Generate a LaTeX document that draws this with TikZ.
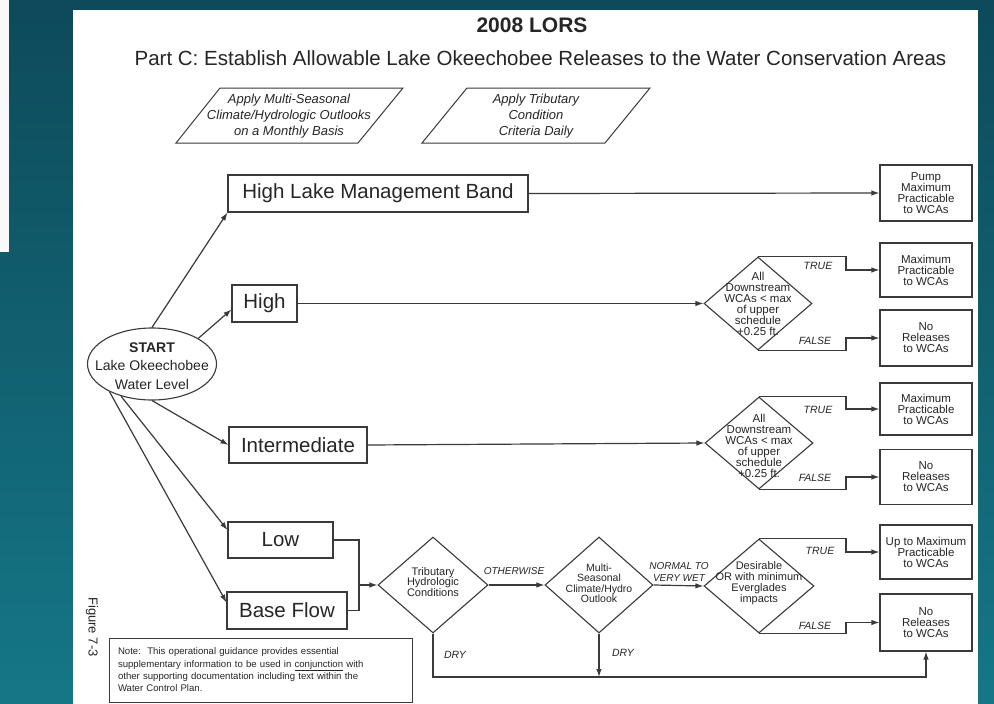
\documentclass[tikz,border=0pt]{standalone}
\usepackage{fontspec}
\setmainfont{Liberation Sans}
\usetikzlibrary{shapes.geometric,arrows.meta,calc}
\definecolor{tealA}{HTML}{0D4A5B}
\definecolor{tealB}{HTML}{157786}
\definecolor{ln}{HTML}{3A3A3A}
\definecolor{tx}{HTML}{262626}
\begin{document}
\begin{tikzpicture}[x=1pt,y=-1pt,
  every node/.style={text=tx},
  box/.style={draw=ln, line width=1.1pt, fill=white, inner sep=0pt, align=center},
  bigbox/.style={box, font=\fontsize{20.5}{22}\selectfont},
  outbox/.style={box, minimum width=92pt, font=\fontsize{11.5}{11}\selectfont},
  dia/.style={draw=ln, line width=1.1pt, diamond, inner sep=0pt, minimum width=108pt, minimum height=94pt},
  diatext/.style={align=center, inner sep=0pt, font=\fontsize{11.5}{11}\selectfont},
  conn/.style={draw=ln, line width=1.2pt},
  arr/.style={conn, -{Latex[length=8pt,width=5.5pt]}},
  lbl/.style={inner sep=0pt, align=center, font=\fontsize{10.5}{13}\selectfont\itshape}]
\useasboundingbox (0,0) rectangle (994,704);
% background
\shade[top color=tealA, bottom color=tealB] (0,0) rectangle (994,704);
\fill[white!95!gray] (0,0) rectangle (9,252);
\fill[white] (73,10) rectangle (978,704);
% titles
\node[font=\fontsize{21}{21}\selectfont\bfseries] (title) at (532,25) {2008 LORS};
\node[font=\fontsize{20.5}{21}\selectfont] (sub) at (540.5,58) {Part C: Establish Allowable Lake Okeechobee Releases to the Water Conservation Areas};
% parallelograms
\draw[ln, line width=1pt] (220,88) -- (403,88) -- (358,143) -- (176,143) -- cycle;
\node[align=center, font=\fontsize{13}{16}\selectfont\itshape] (pa1) at (289,116) {Apply Multi-Seasonal\\Climate/Hydrologic Outlooks\\on a Monthly Basis};
\draw[ln, line width=1pt] (467,88) -- (650,88) -- (605,143) -- (422,143) -- cycle;
\node[align=center, font=\fontsize{13}{16}\selectfont\itshape] (pa2) at (536,116) {Apply Tributary\\Condition\\Criteria Daily};
% start
\node[draw=ln, line width=1.1pt, ellipse, minimum width=129pt, minimum height=72pt, inner sep=0pt] (start) at (152,364) {};
\node[align=center, inner sep=0pt, font=\fontsize{14}{18.5}\selectfont] (startt) at (152,366) {\textbf{START}\\Lake Okeechobee\\Water Level};
% level boxes
\node[bigbox, minimum width=300pt, minimum height=37pt] (hlmb) at (378,193.5) {High Lake Management Band};
\node[bigbox, minimum width=65pt, minimum height=37pt] (high) at (264.5,303.5) {High};
\node[bigbox, minimum width=138pt, minimum height=36pt] (inter) at (298,445) {Intermediate};
\node[bigbox, minimum width=105pt, minimum height=36pt] (low) at (280.5,540) {Low};
\node[bigbox, minimum width=120pt, minimum height=37pt] (bf) at (287,610.5) {Base Flow};
% outcome boxes
\node[outbox, minimum height=56pt] (p1) at (926,193) {Pump\\Maximum\\Practicable\\to WCAs};
\node[outbox, minimum height=54pt] (ht) at (926,270) {Maximum\\Practicable\\to WCAs};
\node[outbox, minimum height=56pt] (hf) at (926,338) {No\\Releases\\to WCAs};
\node[outbox, minimum height=52pt] (it) at (926,409) {Maximum\\Practicable\\to WCAs};
\node[outbox, minimum height=55pt] (if) at (926,477) {No\\Releases\\to WCAs};
\node[outbox, minimum height=54pt] (lt) at (926,552) {Up to Maximum\\Practicable\\to WCAs};
\node[outbox, minimum height=57pt] (lf) at (926,622.5) {No\\Releases\\to WCAs};
% diamonds
\node[dia, minimum height=93pt] (d1) at (758,303.5) {};
\node[diatext] (d1t) at (758,304) {All\\Downstream\\WCAs < max\\of upper\\schedule\\+0.25 ft.};
\node[dia, minimum height=92pt] (d2) at (759,443) {};
\node[diatext] (d2t) at (759,446) {All\\Downstream\\WCAs < max\\of upper\\schedule\\+0.25 ft.};
\node[dia, minimum width=110pt, minimum height=96pt] (trib) at (433,585) {};
\node[diatext, font=\fontsize{11}{10.5}\selectfont] (tribt) at (433,582) {Tributary\\Hydrologic\\Conditions};
\node[dia, minimum height=96pt] (multi) at (599,585) {};
\node[diatext, font=\fontsize{10.5}{10.5}\selectfont] (multit) at (599,583) {Multi-\\Seasonal\\Climate/Hydro\\Outlook};
\node[dia, minimum width=110pt] (des) at (759,586) {};
\node[diatext, font=\fontsize{11}{10.8}\selectfont] (dest) at (759,583) {Desirable\\OR with minimum\\Everglades\\impacts};
% note and figure label
\node[draw=ln, line width=1pt, fill=white, text width=285pt, minimum height=64pt, inner xsep=9pt, inner ysep=0pt, align=left, font=\fontsize{9.6}{12.3}\selectfont] (note) at (260.5,670) {Note:\ \ This operational guidance provides essential\\supplementary information to be used in \underline{conjunction} with\\other supporting documentation including text within the\\Water Control Plan.};
\node[rotate=-90, font=\fontsize{13}{13}\selectfont] (fig) at (92,627) {Figure 7-3};
% helper coordinates
\coordinate (jx) at (846,0);
\coordinate (jb) at (359,585);
\coordinate (dryy) at (0,677);
% connectors from start
\draw[arr] (start.north) -- (hlmb.south west);
\draw[arr] (start.29) -- ($(high.west)+(0,6)$);
\draw[arr] (start.south) -- (inter.west);
\draw[arr] (start.226) -- ($(low.west)+(0,-10)$);
\draw[arr] (start.213) -- ($(bf.north west)+(0,11)$);
% main lines
\draw[arr] (hlmb.east) -- (p1.west);
\draw[arr] (high.east) -- (d1.west);
\draw[arr] (inter.east) -- (d2.west);
\draw[conn] (low.east) -| (jb) |- (bf.east);
\draw[arr] (jb) -- (trib.west);
\draw[arr] (trib.east) -- (multi.west);
\draw[arr] (multi.east) -- (des.west);
% branches
\draw[arr] (d1.north) -- (d1.north -| jx) |- (ht.west);
\draw[arr] (d1.south) -- (d1.south -| jx) |- (hf.west);
\draw[arr] (d2.north) -- (d2.north -| jx) |- (it.west);
\draw[arr] (d2.south) -- (d2.south -| jx) |- (if.west);
\draw[arr] (des.north) -- (des.north -| jx) |- (lt.west);
\draw[arr] (des.south) -- (des.south -| jx) |- (lf.west);
\draw[arr] (trib.south) |- (lf.south |- dryy) -- (lf.south);
\draw[arr] (multi.south) -- (multi.south |- dryy);
% labels
\node[lbl] (t1) at (818,266) {TRUE};
\node[lbl] (f1) at (815,341) {FALSE};
\node[lbl] (t2) at (818,410) {TRUE};
\node[lbl] (f2) at (815,478) {FALSE};
\node[lbl] (t3) at (820,551) {TRUE};
\node[lbl] (f3) at (815,626) {FALSE};
\node[lbl, font=\fontsize{10}{11}\selectfont\itshape] (oth) at (514,571) {OTHERWISE};
\node[lbl, font=\fontsize{10}{12}\selectfont\itshape] (nvw) at (679,572) {NORMAL TO\\VERY WET};
\node[lbl] (dry1) at (455,655) {DRY};
\node[lbl] (dry2) at (623,653) {DRY};
\end{tikzpicture}
\end{document}
